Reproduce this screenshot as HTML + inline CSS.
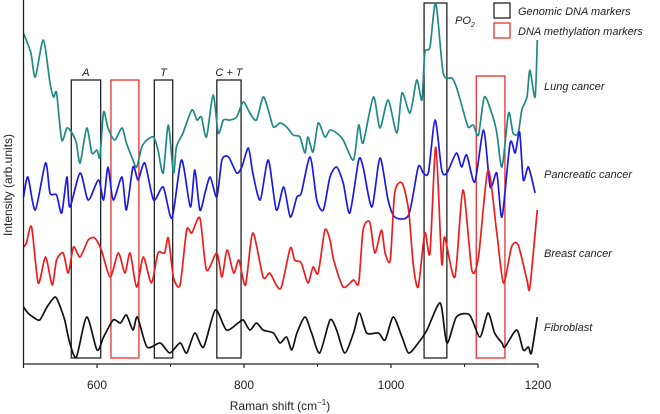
<!DOCTYPE html>
<html><head><meta charset="utf-8"><style>
html,body{margin:0;padding:0;background:#fff;}
svg{display:block;font-family:"Liberation Sans",sans-serif;}
</style></head><body>
<svg id="chart" width="660" height="414" viewBox="0 0 660 414"></svg>
<script>
const lungW=[500,510,516,527,536,541,545,552,559,566,572,577,586,593,600,604,609,615,624,634,640,649,654,661,668,677,683,690,697,704,708,717,729,736,742,749,758,765,772,781,790,799,808,817,826,833,840,849,858,867,876,883,887,894,901,910,917,926,935,949,956,962,976,985,996,1008,1015,1026,1035,1042,1046,1053,1061,1071,1083,1089,1098,1105,1112,1119,1127,1137,1144,1151,1160,1166,1173,1178,1185,1189,1196,1199];
const lungI=[331,311,287,324,281,267,271,224,236,231,221,201,236,211,214,207,252,236,224,236,221,204,197,217,224,227,214,191,239,191,217,231,254,244,247,227,269,231,244,244,247,262,251,244,267,254,237,241,237,229,227,211,227,212,241,227,234,231,224,204,239,221,267,236,264,231,271,251,284,264,311,317,361,291,286,277,254,237,239,229,267,251,231,197,251,231,231,254,267,294,267,324];
const pancW=[500,506,516,530,536,545,552,559,563,577,588,602,609,615,622,634,640,649,656,665,677,690,702,715,727,733,740,747,754,763,770,779,790,797,806,812,822,833,844,854,863,872,878,890,899,908,917,926,935,944,956,962,974,985,996,1005,1024,1037,1044,1051,1060,1069,1076,1089,1096,1103,1114,1126,1135,1144,1151,1162,1169,1175,1180,1187,1196];
const pancI=[167,187,154,201,171,169,151,187,157,191,164,184,164,197,164,187,154,197,184,201,164,177,146,204,157,194,154,171,187,167,204,207,191,197,216,191,164,204,154,177,147,167,171,207,164,154,187,197,181,151,204,197,157,206,164,147,149,197,191,192,244,194,191,211,197,209,182,234,177,191,147,221,211,232,184,197,171];
const breastW=[500,504,511,520,530,539,545,554,561,568,577,588,597,606,618,629,638,645,654,663,674,683,692,697,704,713,722,729,740,749,763,770,777,786,793,802,812,826,835,844,851,863,869,878,887,894,901,910,917,922,935,949,956,962,971,978,987,992,999,1005,1015,1024,1030,1037,1046,1053,1061,1069,1073,1087,1098,1110,1119,1132,1144,1153,1164,1173,1185,1189,1199];
const breastI=[117,121,137,81,107,79,104,111,91,117,107,124,126,114,87,111,91,111,77,107,81,111,111,126,87,79,134,131,146,94,111,87,114,91,104,79,131,87,91,79,77,116,104,101,81,97,91,134,124,104,77,84,81,134,142,111,134,111,104,171,181,154,101,77,131,111,217,101,127,87,174,94,107,194,131,81,117,119,84,77,154];
const fibroW=[500,506,513,522,532,543,550,556,563,572,586,600,609,622,632,640,649,655,668,686,699,713,722,733,745,761,776,792,799,808,817,826,840,849,858,865,872,883,892,903,917,926,937,949,957,967,983,992,1003,1015,1024,1037,1049,1067,1076,1089,1107,1121,1132,1141,1151,1155,1171,1180,1187,1191,1199];
const fibroI=[57,51,47,44,57,67,57,44,21,7,47,14,27,44,41,49,34,47,17,21,11,21,11,31,17,54,34,41,44,34,41,34,31,21,27,14,31,47,31,11,44,34,11,31,51,31,31,24,47,27,11,21,34,61,21,47,49,27,51,31,21,17,34,14,17,11,47];
const xTicks=[600,800,1000,1200];
const xMinor=[700,900,1100];
const blackBoxes=[[565,605,"A"],[678,703,"T"],[763,796,"C + T"]];
const redBoxes=[[619,657],[1116,1155]];
const poBox=[1045,1076];
const seriesLabels=["Lung cancer","Pancreatic cancer","Breast cancer","Fibroblast"];

const NS="http://www.w3.org/2000/svg";
const svg=document.getElementById('chart');
const X0=23.5,XA=364;
const xs=w=>X0+(w-500)*0.735;
const ys=v=>XA-v;
function mk(t,a,p){const e=document.createElementNS(NS,t);for(const k in a)e.setAttribute(k,a[k]);(p||svg).appendChild(e);return e;}

blackBoxes.forEach((b,i)=>{
  const r=mk('rect',{x:xs(b[0]),y:80,width:xs(b[1])-xs(b[0]),height:278,fill:'none',stroke:'#222','stroke-width':1.3});
  
  
  const t=mk('text',{x:(xs(b[0])+xs(b[1]))/2,y:76,'text-anchor':'middle','font-size':11,'font-style':'italic',fill:'#222'});
  t.textContent=b[2];
  
  
});
redBoxes.forEach((b,i)=>{
  const r=mk('rect',{x:xs(b[0]),y:i==0?80:76,width:xs(b[1])-xs(b[0]),height:i==0?278:282,fill:'none',stroke:'#e8302a','stroke-width':1.3});
  
  
});
const pb=mk('rect',{x:xs(poBox[0]),y:3,width:xs(poBox[1])-xs(poBox[0]),height:355,fill:'none',stroke:'#222','stroke-width':1.3});



const series=[[lungW,lungI,'#1f8a84','lung-cancer-line'],[pancW,pancI,'#1a1ae6','pancreatic-cancer-line'],[breastW,breastI,'#ee1c1c','breast-cancer-line'],[fibroW,fibroI,'#111','fibroblast-line']];
series.forEach(s=>{
  const pts=s[0].map((w,i)=>[xs(w),ys(s[1][i])]);
  let d='M'+pts[0][0].toFixed(1)+','+pts[0][1].toFixed(1);
  for(let i=0;i<pts.length-1;i++){
    const p0=pts[Math.max(0,i-1)],p1=pts[i],p2=pts[i+1],p3=pts[Math.min(pts.length-1,i+2)];
    const c1=[p1[0]+(p2[0]-p0[0])/8,p1[1]+(p2[1]-p0[1])/8],c2=[p2[0]-(p3[0]-p1[0])/8,p2[1]-(p3[1]-p1[1])/8];
    d+=' C'+c1.map(v=>v.toFixed(1))+' '+c2.map(v=>v.toFixed(1))+' '+p2.map(v=>v.toFixed(1));
  }
  const p=mk('path',{d:d,fill:'none',stroke:s[2],'stroke-width':1.7,'stroke-linejoin':'round'});
  
  
});

const ya=mk('line',{x1:X0,y1:0,x2:X0,y2:XA,stroke:'#222','stroke-width':1.3});


const xa=mk('line',{x1:X0,y1:XA,x2:xs(1200),y2:XA,stroke:'#222','stroke-width':1.3});


[500].concat(xTicks).forEach(v=>{
  const l=mk('line',{x1:xs(v),y1:XA,x2:xs(v),y2:XA+4,stroke:'#222','stroke-width':1.2});
  
  
});
xTicks.forEach(v=>{
  const t=mk('text',{x:xs(v),y:389,'text-anchor':'middle','font-size':12,fill:'#222'});
  t.textContent=v;
  
  
});
xMinor.forEach(v=>{
  const l=mk('line',{x1:xs(v),y1:XA,x2:xs(v),y2:XA+3,stroke:'#222','stroke-width':1});
  
  
});
const xt=mk('text',{x:280,y:410,'text-anchor':'middle','font-size':12,fill:'#222'});
xt.innerHTML='Raman shift (cm<tspan font-size="8" dy="-5">−1</tspan><tspan dy="5">)</tspan>';


const yt=mk('text',{x:0,y:0,'text-anchor':'middle','font-size':12,fill:'#222',transform:'translate(12,185) rotate(-90)'});
yt.textContent='Intensity (arb.units)';



const ly=[90,178,257,331];
seriesLabels.forEach((s,i)=>{
  const t=mk('text',{x:544,y:ly[i],'font-size':11,'font-style':'italic',fill:'#222'});
  t.textContent=s;
  
  
});
const po=mk('text',{x:455,y:24,'font-size':11,'font-style':'italic',fill:'#222'});
po.innerHTML='PO<tspan font-size="7" dy="3">2</tspan>';



const lg=mk('g',{});


const e1=mk('rect',{x:494,y:3,width:16,height:15,fill:'none',stroke:'#222','stroke-width':1.3},lg);


const e2=mk('rect',{x:494,y:23,width:16,height:15,fill:'none',stroke:'#e8302a','stroke-width':1.3},lg);


const t1=mk('text',{x:518,y:15,'font-size':11,'font-style':'italic',fill:'#222'},lg);
t1.textContent='Genomic DNA markers';


const t2=mk('text',{x:518,y:35,'font-size':11,'font-style':'italic',fill:'#222'},lg);
t2.textContent='DNA methylation markers';


</script>
</body></html>
